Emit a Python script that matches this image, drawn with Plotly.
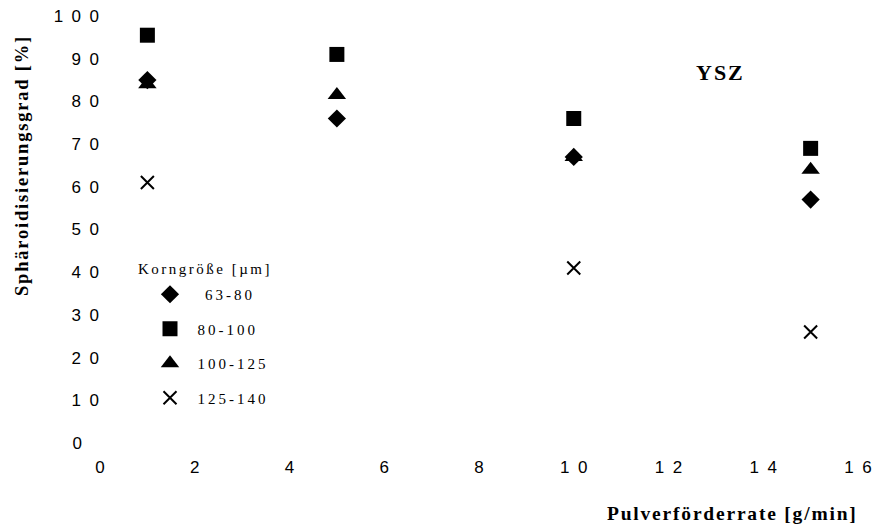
import plotly.graph_objects as go

# ---- data ----
x_vals = [1, 5, 10, 15]
s_63_80 = [85, 76, 67, 57]
s_80_100 = [95.5, 91, 76, 69]
s_100_125 = [84, 81.5, 67, 64]
s_125_140 = [61, None, 41, 26]

series_names = ["63-80", "80-100", "100-125", "125-140"]
series_vals = [s_63_80, s_80_100, s_100_125, s_125_140]
symbols = ["diamond", "square", "triangle-up", "x-thin"]
sizes = [14, 15, 16, 13]
legend_pad = ["\u2002\u2002", "\u2002", "\u2002", "\u2002"]

x_ticks = [0, 2, 4, 6, 8, 10, 12, 14, 16]
y_ticks = [0, 10, 20, 30, 40, 50, 60, 70, 80, 90, 100]

SERIF = "Liberation Serif, Times New Roman, serif"
SANS = "Liberation Sans, Arial, sans-serif"


def ls(text, px):
    return f'<span style="letter-spacing:{px}px">{text}</span>'


def spaced_num(v):
    return "\u2002".join(str(v))


fig = go.Figure()
for name, vals, sym, sz, pad in zip(series_names, series_vals, symbols, sizes, legend_pad):
    xs = [x for x, v in zip(x_vals, vals) if v is not None]
    ys = [v for v in vals if v is not None]
    marker = dict(symbol=sym, size=sz, color="black")
    if sym == "x-thin":
        marker["line"] = dict(color="black", width=2)
    fig.add_trace(go.Scatter(
        x=xs, y=ys, mode="markers", name=pad + ls(name, 3), marker=marker,
        legendgroup=name, showlegend=True,
    ))

fig.update_layout(
    width=883, height=529,
    margin=dict(l=100, r=25, t=16, b=86),
    paper_bgcolor="white", plot_bgcolor="white",
    showlegend=True,
    legend=dict(
        x=(150 - 100) / 758, y=(443 - 278) / 427, xanchor="left", yanchor="top",
        font=dict(family=SERIF, size=15, color="black"),
        tracegroupgap=12, bgcolor="rgba(0,0,0,0)",
    ),
    xaxis=dict(
        range=[0, 16], showgrid=False, zeroline=False, showline=False,
        tickmode="array", tickvals=x_ticks,
        ticktext=[spaced_num(v) for v in x_ticks],
        tickfont=dict(family=SANS, size=17, color="black"),
        ticklabelstandoff=12, ticklabeloverflow="allow", automargin=False,
    ),
    yaxis=dict(
        range=[0, 100], showgrid=False, zeroline=False, showline=False,
        tickmode="array", tickvals=y_ticks,
        ticktext=[spaced_num(v) + ("\u2002\u2002" if v == 0 else "") for v in y_ticks],
        tickfont=dict(family=SANS, size=17, color="black"),
        automargin=False,
    ),
    annotations=[
        dict(text=ls("Korngröße [µm]", 2.5), xref="paper", yref="paper",
             x=(205 - 100) / 758, y=(443 - 269) / 427, showarrow=False,
             xanchor="center", yanchor="middle",
             font=dict(family=SERIF, size=15, color="black")),
        dict(text=ls("<b>YSZ</b>", 2), xref="paper", yref="paper",
             x=(720 - 100) / 758, y=(443 - 72) / 427, showarrow=False,
             xanchor="center", yanchor="middle",
             font=dict(family=SERIF, size=22, color="black")),
        dict(text=ls("<b>Sphäroidisierungsgrad [%]</b>", 1.8), xref="paper", yref="paper",
             x=(22 - 100) / 758, y=(443 - 166) / 427, showarrow=False,
             xanchor="center", yanchor="middle", textangle=-90,
             font=dict(family=SERIF, size=18.5, color="black")),
        dict(text=ls("<b>Pulverförderrate [g/min]</b>", 1.8), xref="paper", yref="paper",
             x=(732 - 100) / 758, y=(443 - 513) / 427, showarrow=False,
             xanchor="center", yanchor="middle",
             font=dict(family=SERIF, size=19.5, color="black")),
    ],
)

fig.write_html("out.html")
